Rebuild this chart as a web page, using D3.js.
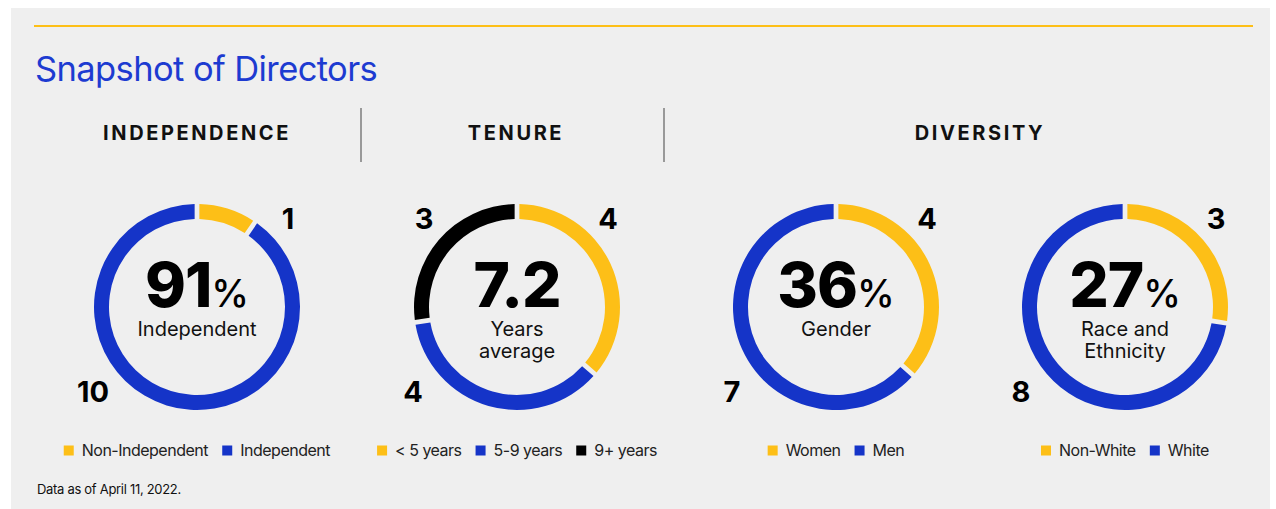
<!DOCTYPE html>
<html>
<head>
<meta charset="utf-8">
<script src="https://cdn.jsdelivr.net/npm/d3@7"></script>
<style>
  html, body { margin: 0; padding: 0; background: #fff; }
  svg { display: block; font-family: Inter, "Noto Sans", sans-serif; }
</style>
</head>
<body>
<div id="chart"></div>
<script>
// ---- data ----
var title = "Snapshot of Directors";
var footnote = "Data as of April 11, 2022.";
var sectionNames = ["INDEPENDENCE", "TENURE", "DIVERSITY"];

var independenceLabels = ["Non-Independent", "Independent"];
var independenceValues = [1, 10];
var tenureLabels = ["< 5 years", "5-9 years", "9+ years"];
var tenureValues = [4, 4, 3];
var genderLabels = ["Women", "Men"];
var genderValues = [4, 7];
var raceLabels = ["Non-White", "White"];
var raceValues = [3, 8];

var centerValues = ["91", "7.2", "36", "27"];
var centerUnits = ["%", "", "%", "%"];
var centerCaptions = [["Independent"], ["Years", "average"], ["Gender"], ["Race and", "Ethnicity"]];

// ---- layout ----
var W = 1276, H = 509;
var YELLOW = "#fdbf17", BLUE = "#1534c8", BLACK = "#000000";
var colours = [YELLOW, BLUE, BLACK];

var donuts = [
  { labels: independenceLabels, values: independenceValues, cx: 197 },
  { labels: tenureLabels, values: tenureValues, cx: 517 },
  { labels: genderLabels, values: genderValues, cx: 836 },
  { labels: raceLabels, values: raceValues, cx: 1125 }
];
var cy = 307, rOuter = 103, rInner = 88;
var sectionX = [197, 516, 980];
var dividerX = [361, 664];

var svg = d3.select("#chart").append("svg").attr("width", W).attr("height", H);

svg.append("rect").attr("x", 11).attr("y", 8).attr("width", 1259).attr("height", H - 8).attr("fill", "#efefef");
svg.append("line").attr("x1", 34).attr("x2", 1253).attr("y1", 26).attr("y2", 26)
  .attr("stroke", YELLOW).attr("stroke-width", 2);

svg.append("text").attr("x", 35).attr("y", 81).attr("fill", "#1d3bd1")
  .attr("font-size", 34.5).attr("font-weight", 400).attr("letter-spacing", -0.6).text(title);

svg.selectAll("text.section").data(sectionNames).enter().append("text")
  .attr("class", "section")
  .attr("x", function(d, i) { return sectionX[i]; }).attr("y", 140)
  .attr("text-anchor", "middle").attr("font-size", 20).attr("font-weight", 700)
  .attr("letter-spacing", 2.6).attr("fill", "#111").text(function(d) { return d; });

svg.selectAll("line.divider").data(dividerX).enter().append("line")
  .attr("class", "divider")
  .attr("x1", function(d) { return d; }).attr("x2", function(d) { return d; })
  .attr("y1", 108).attr("y2", 162).attr("stroke", "#999").attr("stroke-width", 2);

var pie = d3.pie().sort(null).padAngle(0.035);
var arc = d3.arc().innerRadius(rInner).outerRadius(rOuter);

// where each segment count sits: first segment top-right, second bottom-left, third top-left
var corners = [[91, -78], [-104, 95], [-93, -78]];

donuts.forEach(function(dn, k) {
  var g = svg.append("g").attr("transform", "translate(" + dn.cx + "," + cy + ")");
  g.selectAll("path").data(pie(dn.values)).enter().append("path")
    .attr("d", arc).attr("fill", function(d, i) { return colours[i]; });

  g.selectAll("text.count").data(dn.values).enter().append("text")
    .attr("class", "count")
    .attr("x", function(d, i) { return corners[i][0]; })
    .attr("y", function(d, i) { return corners[i][1]; })
    .attr("text-anchor", "middle").attr("font-size", 29).attr("font-weight", 700)
    .attr("fill", "#000").text(function(d) { return d; });

  var big = g.append("text").attr("x", 0).attr("y", 0).attr("text-anchor", "middle").attr("fill", "#000");
  big.append("tspan").attr("font-size", 62).attr("font-weight", 800).attr("letter-spacing", -1).text(centerValues[k]);
  if (centerUnits[k]) {
    big.append("tspan").attr("font-size", 38).attr("font-weight", 500).text(centerUnits[k]);
  }
  g.selectAll("text.caption").data(centerCaptions[k]).enter().append("text")
    .attr("class", "caption")
    .attr("x", 0).attr("y", function(d, i) { return 29 + i * 22; })
    .attr("text-anchor", "middle").attr("font-size", 20).attr("font-weight", 400)
    .attr("fill", "#111").text(function(d) { return d; });

  // legend, centred under its donut
  var leg = svg.append("g");
  var items = leg.selectAll("g").data(dn.labels).enter().append("g");
  items.append("rect").attr("width", 10).attr("height", 10).attr("y", -10.5)
    .attr("fill", function(d, i) { return colours[i]; });
  items.append("text").attr("x", 18).attr("y", 0).attr("font-size", 16)
    .attr("fill", "#222").attr("letter-spacing", -0.5).text(function(d) { return d; });
  var x = 0;
  items.each(function() {
    var w = this.getBBox().width;
    d3.select(this).attr("transform", "translate(" + x + ",0)");
    x += w + 14;
  });
  var total = x - 14;
  leg.attr("transform", "translate(" + (dn.cx - total / 2) + ",456)");
});

svg.append("text").attr("x", 37).attr("y", 494).attr("font-size", 13)
  .attr("fill", "#111").attr("letter-spacing", -0.3).text(footnote);
</script>
</body>
</html>
